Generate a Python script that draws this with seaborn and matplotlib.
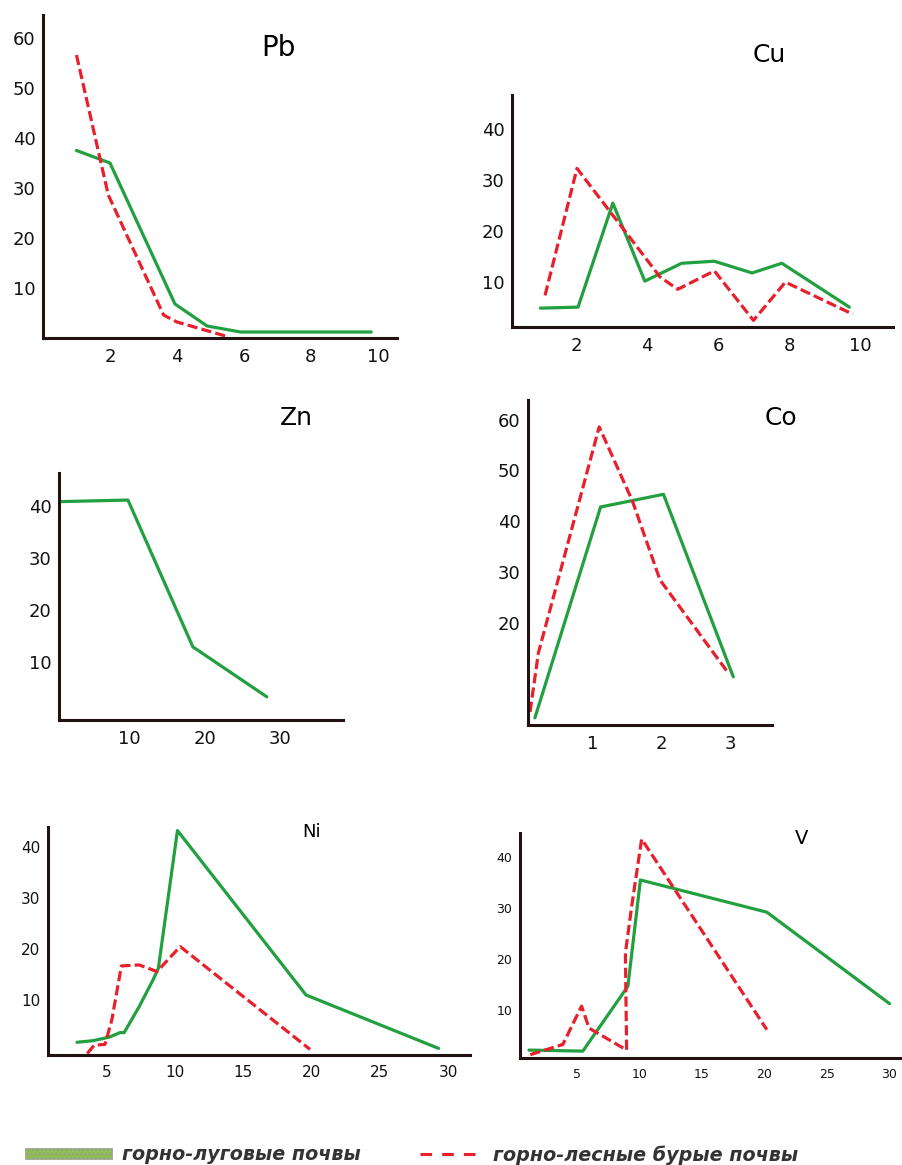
import matplotlib
matplotlib.use("Agg")
import matplotlib.pyplot as plt
import seaborn as sns
from matplotlib.lines import Line2D
from matplotlib.patches import Patch

sns.set_theme(style="white")
plt.rcParams['font.family'] = ['DejaVu Sans']

# данные: горно-луговые (green) и горно-лесные бурые (red)
pb_x_green = [1.0, 2.0, 3.94, 4.9, 5.9, 9.8]
pb_y_green = [37.5, 35.0, 6.8, 2.4, 1.2, 1.2]
pb_x_red = [1.0, 1.95, 3.6, 4.0, 5.5]
pb_y_red = [56.6, 28.6, 4.6, 3.2, 0.3]

cu_x_green = [1.0, 2.06, 3.04, 3.94, 4.98, 5.9, 6.96, 7.8, 9.7]
cu_y_green = [4.9, 5.1, 25.5, 10.2, 13.7, 14.1, 11.8, 13.7, 5.1]
cu_x_red = [1.13, 2.03, 4.37, 4.87, 5.9, 7.0, 7.9, 9.8]
cu_y_red = [7.4, 32.3, 11.0, 8.6, 12.2, 2.5, 10.0, 3.7]

zn_x_green = [0.7, 9.8, 18.4, 28.2]
zn_y_green = [40.8, 41.1, 12.9, 3.3]

co_x_green = [0.17, 1.12, 2.03, 3.04]
co_y_green = [1.2, 42.8, 45.3, 9.3]
co_x_red = [0.1, 0.22, 1.1, 1.58, 1.98, 2.97]
co_y_red = [2.4, 14.0, 58.6, 44.0, 28.4, 10.0]

ni_x_green = [2.85, 4.0, 5.2, 6.0, 6.3, 7.4, 8.4, 8.8, 10.2, 19.6, 29.3]
ni_y_green = [1.6, 1.9, 2.6, 3.5, 3.5, 8.6, 13.8, 16.1, 43.2, 10.9, 0.4]
ni_x_red = [3.6, 4.1, 4.9, 5.4, 6.1, 7.4, 8.7, 10.4, 19.9]
ni_y_red = [-0.6, 1.0, 1.2, 6.0, 16.6, 16.8, 15.5, 20.4, 0.2]

v_x_green = [1.2, 5.5, 9.1, 10.1, 20.2, 30.0]
v_y_green = [2.2, 2.0, 14.7, 35.5, 29.2, 11.3]
v_x_red = [1.3, 3.9, 5.4, 6.0, 9.0, 8.9, 9.4, 10.2, 20.2]
v_y_red = [1.3, 3.3, 10.8, 6.5, 2.2, 21.2, 30.3, 43.5, 6.2]

legend_labels = ['горно-луговые почвы', 'горно-лесные бурые почвы']

W, H = 902, 1165
GREEN = '#22a040'
RED = '#e8202c'
AXIS = '#221212'

fig = plt.figure(figsize=(W / 100, H / 100), dpi=100)


def make_ax(x0, y_axis, top, right, xlim, ylim, xticks, yticks, fs):
    # x0 = пиксель оси y, y_axis = пиксель оси x
    ax = fig.add_axes([x0 / W, (H - y_axis) / H, (right - x0) / W, (y_axis - top) / H])
    ax.set_xlim(*xlim)
    ax.set_ylim(*ylim)
    ax.set_xticks(xticks)
    ax.set_yticks(yticks)
    for s in ['top', 'right']:
        ax.spines[s].set_visible(False)
    for s in ['left', 'bottom']:
        ax.spines[s].set_color(AXIS)
        ax.spines[s].set_linewidth(2.2)
    ax.tick_params(axis='both', direction='out', length=3.5, width=0.8,
                   color='#555555', labelsize=fs, labelcolor='#111111', pad=2)
    ax.tick_params(axis='x', pad=4)
    ax.set_facecolor('white')
    return ax


def draw(ax, x, y, color, dashed=False):
    if dashed:
        sns.lineplot(x=x, y=y, ax=ax, color=color, sort=False, estimator=None,
                     linewidth=2.3, linestyle=(0, (3.2, 1.3)))
    else:
        sns.lineplot(x=x, y=y, ax=ax, color=color, sort=False, estimator=None,
                     linewidth=2.3)
    ax.set_xlabel('')
    ax.set_ylabel('')


def title(x, y, s, fs):
    fig.text(x / W, 1 - y / H, s, fontsize=fs, ha='center', va='center', color='black')


# Pb
ax = make_ax(43, 338, 15, 397, (0, 10.57), (0, 64.6), [2, 4, 6, 8, 10], [10, 20, 30, 40, 50, 60], 13)
draw(ax, pb_x_green, pb_y_green, GREEN)
draw(ax, pb_x_red, pb_y_red, RED, dashed=True)
title(278, 48, 'Pb', 20)

# Cu
ax = make_ax(512, 327, 95, 893, (0.2, 10.93), (1.2, 46.7), [2, 4, 6, 8, 10], [10, 20, 30, 40], 13)
draw(ax, cu_x_green, cu_y_green, GREEN)
draw(ax, cu_x_red, cu_y_red, RED, dashed=True)
title(769, 55, 'Cu', 18)

# Zn
ax = make_ax(59, 720, 473, 343, (0.66, 38.3), (-1.15, 46.3), [10, 20, 30], [10, 20, 30, 40], 13)
draw(ax, zn_x_green, zn_y_green, GREEN)
title(296, 418, 'Zn', 18)

# Co
ax = make_ax(528, 725, 400, 772, (0.07, 3.6), (-0.2, 63.9), [1, 2, 3], [20, 30, 40, 50, 60], 13)
draw(ax, co_x_green, co_y_green, GREEN)
draw(ax, co_x_red, co_y_red, RED, dashed=True)
title(781, 418, 'Co', 18)

# Ni
ax = make_ax(48, 1055, 827, 470, (0.73, 31.6), (-0.9, 43.9), [5, 10, 15, 20, 25, 30], [10, 20, 30, 40], 11)
draw(ax, ni_x_green, ni_y_green, GREEN)
draw(ax, ni_x_red, ni_y_red, RED, dashed=True)
title(312, 832, 'Ni', 13)

# V
ax = make_ax(520, 1058, 833, 902, (0.48, 31.0), (0.65, 44.7), [5, 10, 15, 20, 25, 30], [10, 20, 30, 40], 9)
draw(ax, v_x_green, v_y_green, GREEN)
draw(ax, v_x_red, v_y_red, RED, dashed=True)
title(802, 838, 'V', 14)

# легенда
prop = {'size': 13.8, 'weight': 'bold', 'style': 'italic'}
green_patch = Patch(facecolor='#8fbf50', edgecolor='#9a9a9a', hatch='....', linewidth=0.5)
red_line = Line2D([0], [0], color=RED, linewidth=2.2, linestyle=(0, (3.8, 3.3)))
fig.legend([green_patch], legend_labels[:1], loc='center left', bbox_to_anchor=(8 / W, 1 - 1155 / H),
           frameon=False, handlelength=4.5, handleheight=0.55, handletextpad=0.55,
           prop=prop, labelcolor='#333333')
fig.legend([red_line], legend_labels[1:], loc='center left', bbox_to_anchor=(403 / W, 1 - 1155 / H),
           frameon=False, handlelength=2.87, handletextpad=0.9,
           prop=prop, labelcolor='#333333')

fig.savefig('out.png', dpi=100)
